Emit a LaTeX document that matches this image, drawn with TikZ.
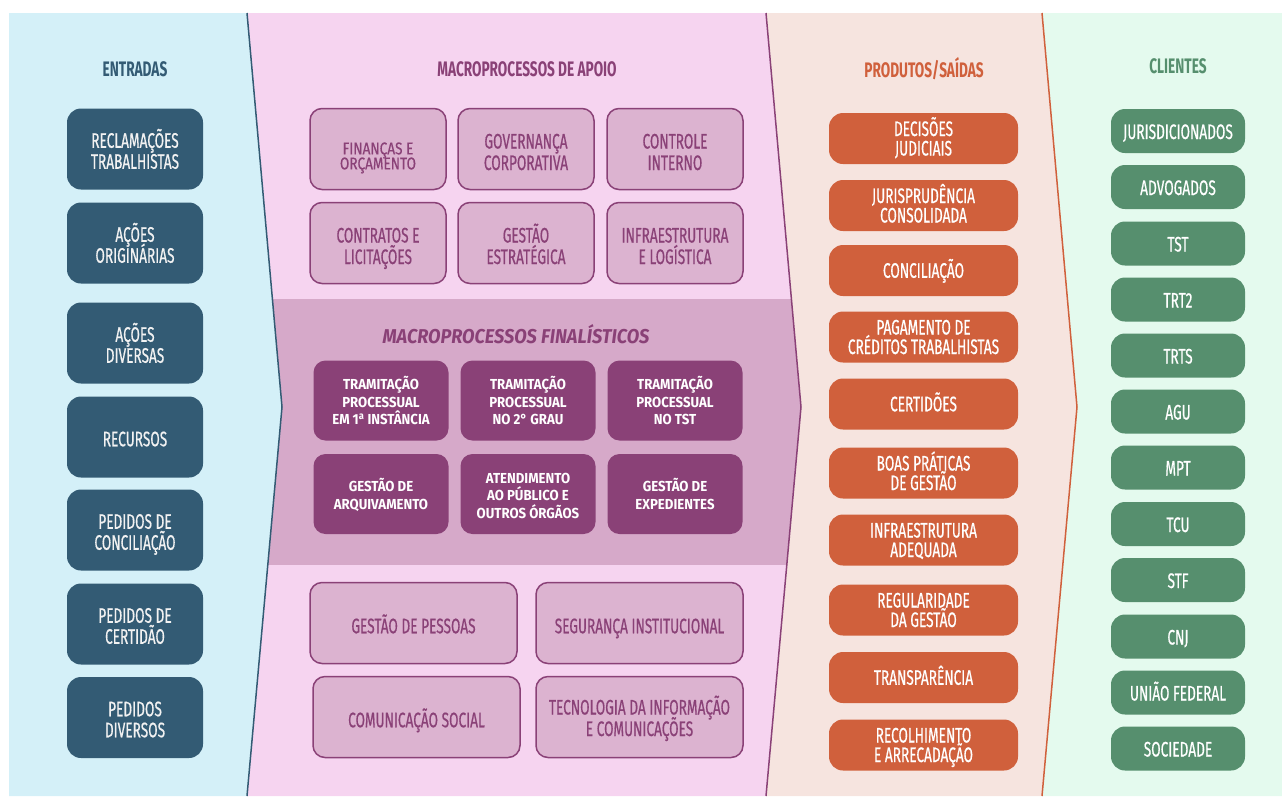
\documentclass[tikz,border=0pt]{standalone}
\usepackage{fontspec}
\setmainfont{Fira Sans}[FakeStretch=0.65, UprightFeatures={FakeBold=0.6}]
\newfontfamily\widefont{Fira Sans}[FakeStretch=0.8, FakeBold=0.5]
\newfontfamily\finfont{Fira Sans}[FakeStretch=0.91]

\definecolor{bgblue}{HTML}{D4F0F8}
\definecolor{bgpink}{HTML}{F6D4F0}
\definecolor{bgband}{HTML}{D6A9C9}
\definecolor{bgpeach}{HTML}{F6E4DF}
\definecolor{bggreen}{HTML}{E4FAEE}
\definecolor{dkblue}{HTML}{335B74}
\definecolor{plum}{HTML}{8A4177}
\definecolor{supfill}{HTML}{DCB3D0}
\definecolor{rust}{HTML}{D0603C}
\definecolor{sage}{HTML}{568F6E}

% fixed baselines; struts of set height/depth keep accents and cedillas
% from moving the text inside its box
\newcommand{\tight}{\lineskiplimit=-30pt\relax}
\newcommand{\mkstrut}[2]{\rule[-#2pt]{0pt}{\dimexpr#1pt+#2pt\relax}}
\newcommand{\topst}{}

\tikzset{
  base/.style={inner sep=0pt, align=center},
  struts/.style 2 args={execute at begin node={\def\topst{\mkstrut{#1}{#2}}},
    execute at end node={\mkstrut{#1}{#2}}},
  heading/.style={base, font=\fontsize{21}{22}\selectfont\bfseries},
  inbox/.style={base, struts={24.5}{6}, fill=dkblue, text=white!95!black,
    rounded corners=14pt, minimum width=136pt, minimum height=81pt,
    font=\fontsize{21}{21}\selectfont\tight},
  supbox/.style={base, struts={26.5}{6}, fill=supfill, draw=plum, line width=1.5pt,
    text=plum, rounded corners=12pt, minimum height=81pt,
    font=\fontsize{21}{21.5}\selectfont\tight},
  lowsup/.style={struts={22.5}{6}},
  onesup/.style={struts={18.5}{6}},
  smallsup/.style={struts={31.7}{6}, font=\widefont\fontsize{17}{15}\selectfont\tight},
  finbox/.style={base, struts={17.4}{4}, fill=plum, text=white, rounded corners=12pt,
    minimum width=135pt, minimum height=80pt,
    font=\finfont\fontsize{14.5}{17.5}\selectfont\bfseries\tight},
  outbox/.style={base, struts={20.5}{6}, fill=rust, text=white, rounded corners=14pt,
    minimum width=189pt, minimum height=51pt, font=\fontsize{21}{19.5}\selectfont\tight},
  clbox/.style={base, struts={22}{6}, fill=sage, text=white, rounded corners=14pt,
    minimum width=134pt, minimum height=44pt, font=\fontsize{21}{20}\selectfont\tight},
}

\begin{document}
\begin{tikzpicture}[x=1pt, y=-1pt]
\useasboundingbox (0,0) rectangle (1282,796);

% column backgrounds (chevrons)
\fill[bgblue] (9,13) -- (247,13) -- (282,407) -- (247,796) -- (9,796) -- cycle;
\fill[bgpink] (247,13) -- (766,13) -- (801,407) -- (766,796) -- (247,796) -- (282,407) -- cycle;
\fill[bgpeach] (766,13) -- (1042,13) -- (1077,407) -- (1042,796) -- (766,796) -- (801,407) -- cycle;
\fill[bggreen] (1042,13) -- (1282,13) -- (1282,796) -- (1042,796) -- (1077,407) -- cycle;

% band of the core processes
\begin{scope}
  \clip (247,13) -- (766,13) -- (801,407) -- (766,796) -- (247,796) -- (282,407) -- cycle;
  \fill[bgband] (240,299) rectangle (810,565);
\end{scope}

% chevron edges
\draw[dkblue, line width=1.5pt] (247,13) -- (282,407) -- (247,796);
\draw[plum, line width=1.5pt] (766,13) -- (801,407) -- (766,796);
\draw[rust, line width=1.5pt] (1042,13) -- (1077,407) -- (1042,796);

% headings
\node[heading, text=dkblue] (hin) at (135,69) {ENTRADAS};
\node[heading, text=plum] (hsup) at (527,69) {MACROPROCESSOS DE APOIO};
\node[heading, text=rust] (hout) at (924,69) {PRODUTOS/SAÍDAS};
\node[heading, text=sage] (hcl) at (1178,66) {CLIENTES};
\node[base, text=plum, font=\finfont\fontsize{20}{22}\selectfont\bfseries\itshape] (hfin) at (516,334) {MACROPROCESSOS FINALÍSTICOS};

% inputs
\node[inbox] (in1) at (135,149) {\topst RECLAMAÇÕES\\TRABALHISTAS};
\node[inbox] (in2) at (135,243) {\topst AÇÕES\\ORIGINÁRIAS};
\node[inbox] (in3) at (135,343) {\topst AÇÕES\\DIVERSAS};
\node[inbox, struts={21}{6}] (in4) at (135,437) {\topst RECURSOS};
\node[inbox] (in5) at (135,530) {\topst PEDIDOS DE\\CONCILIAÇÃO};
\node[inbox] (in6) at (135,624) {\topst PEDIDOS DE\\CERTIDÃO};
\node[inbox] (in7) at (135,717.5) {\topst PEDIDOS\\DIVERSOS};

% support processes (top)
\node[supbox, smallsup, minimum width=136pt] (s1) at (378,149) {\topst FINANÇAS E\\ORÇAMENTO};
\node[supbox, minimum width=136pt] (s2) at (526,149) {\topst GOVERNANÇA\\CORPORATIVA};
\node[supbox, minimum width=136pt] (s3) at (675,149) {\topst CONTROLE\\INTERNO};
\node[supbox, minimum width=136pt] (s4) at (378,243) {\topst CONTRATOS E\\LICITAÇÕES};
\node[supbox, minimum width=136pt] (s5) at (526,243) {\topst GESTÃO\\ESTRATÉGICA};
\node[supbox, minimum width=136pt] (s6) at (675,243) {\topst INFRAESTRUTURA\\E LOGÍSTICA};

% core processes
\node[finbox] (f1) at (381,400.5) {\topst TRAMITAÇÃO\\PROCESSUAL\\EM 1\textsuperscript{a} INSTÂNCIA};
\node[finbox] (f2) at (528,400.5) {\topst TRAMITAÇÃO\\PROCESSUAL\\NO 2° GRAU};
\node[finbox] (f3) at (675,400.5) {\topst TRAMITAÇÃO\\PROCESSUAL\\NO TST};
\node[finbox] (f4) at (381,494) {\topst GESTÃO DE\\ARQUIVAMENTO};
\node[finbox] (f5) at (528,494) {\topst ATENDIMENTO\\AO PÚBLICO E\\OUTROS ÓRGÃOS};
\node[finbox] (f6) at (675,494) {\topst GESTÃO DE\\EXPEDIENTES};

% support processes (bottom)
\node[supbox, onesup, minimum width=207pt] (s7) at (413.5,623) {\topst GESTÃO DE PESSOAS};
\node[supbox, onesup, minimum width=207pt] (s8) at (639.5,623) {\topst SEGURANÇA INSTITUCIONAL};
\node[supbox, onesup, minimum width=207pt] (s9) at (416.5,717) {\topst COMUNICAÇÃO SOCIAL};
\node[supbox, lowsup, minimum width=207pt] (s10) at (639.5,717) {\topst TECNOLOGIA DA INFORMAÇÃO\\E COMUNICAÇÕES};

% outputs
\node[outbox] (o1) at (923.5,138.5) {\topst DECISÕES\\JUDICIAIS};
\node[outbox] (o2) at (923.5,205.5) {\topst JURISPRUDÊNCIA\\CONSOLIDADA};
\node[outbox] (o3) at (923.5,270.5) {\topst CONCILIAÇÃO};
\node[outbox] (o4) at (923.5,337) {\topst PAGAMENTO DE\\CRÉDITOS TRABALHISTAS};
\node[outbox] (o5) at (923.5,404) {\topst CERTIDÕES};
\node[outbox] (o6) at (923.5,473) {\topst BOAS PRÁTICAS\\DE GESTÃO};
\node[outbox] (o7) at (923.5,540) {\topst INFRAESTRUTURA\\ADEQUADA};
\node[outbox] (o8) at (923.5,610) {\topst REGULARIDADE\\DA GESTÃO};
\node[outbox] (o9) at (923.5,677.5) {\topst TRANSPARÊNCIA};
\node[outbox] (o10) at (923.5,745) {\topst RECOLHIMENTO\\E ARRECADAÇÃO};

% clients
\node[clbox] (c1) at (1178,131) {\topst JURISDICIONADOS};
\node[clbox] (c2) at (1178,187) {\topst ADVOGADOS};
\node[clbox] (c3) at (1178,243.5) {\topst TST};
\node[clbox] (c4) at (1178,299.5) {\topst TRT2};
\node[clbox] (c5) at (1178,355.5) {\topst TRTS};
\node[clbox] (c6) at (1178,411.5) {\topst AGU};
\node[clbox] (c7) at (1178,467.5) {\topst MPT};
\node[clbox] (c8) at (1178,524) {\topst TCU};
\node[clbox] (c9) at (1178,580) {\topst STF};
\node[clbox] (c10) at (1178,636.5) {\topst CNJ};
\node[clbox] (c11) at (1178,692.5) {\topst UNIÃO FEDERAL};
\node[clbox] (c12) at (1178,748.5) {\topst SOCIEDADE};
\end{tikzpicture}
\end{document}
